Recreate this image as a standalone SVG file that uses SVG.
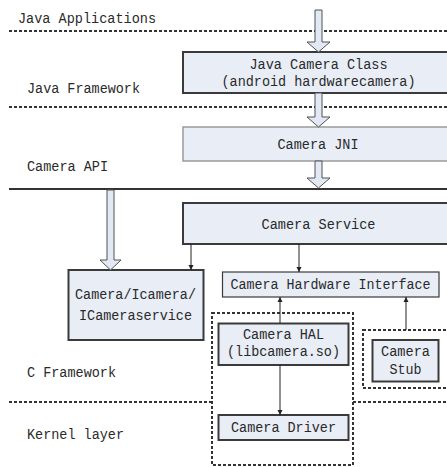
<svg xmlns="http://www.w3.org/2000/svg" width="447" height="467" viewBox="0 0 447 467">
<style>
  text { font-family: "Liberation Mono", "DejaVu Sans Mono", monospace; font-size: 14px; fill: #2a2a2a; }
  .c { text-anchor: middle; }
  .box { fill: #e8edf6; stroke: #3a3a3a; stroke-width: 2; }
  .thin { fill: #e8edf6; stroke: #3a3a3a; stroke-width: 1.2; }
  .light { fill: #e8edf6; stroke: #9a9a9a; stroke-width: 1.5; }
  .dash { fill: none; stroke: #333; stroke-width: 2; stroke-dasharray: 3 2; }
  .solid { stroke: #333; stroke-width: 2; }
  .block { fill: #e3e9f4; stroke: #505050; stroke-width: 1; }
  .conn { stroke: #222; stroke-width: 1; fill: none; marker-end: url(#ah); }
</style>
<defs>
  <marker id="ah" markerWidth="6" markerHeight="6" refX="5" refY="3" orient="auto" markerUnits="userSpaceOnUse">
    <path d="M0,0.5 L5,3 L0,5.5 Z" fill="#222"/>
  </marker>
</defs>
<rect width="447" height="467" fill="#fff"/>

<g id="layers">
  <line class="dash" x1="9" y1="31" x2="447" y2="31"/>
  <line class="dash" x1="9" y1="107" x2="447" y2="107"/>
  <line class="solid" x1="9" y1="189" x2="447" y2="189"/>
  <line class="dash" x1="9" y1="402" x2="212" y2="402"/>
  <line class="dash" x1="353" y1="402" x2="447" y2="402"/>
  <text x="18" y="23" textLength="138" lengthAdjust="spacingAndGlyphs">Java Applications</text>
  <text x="27" y="93" textLength="113" lengthAdjust="spacingAndGlyphs">Java Framework</text>
  <text x="27" y="171" textLength="81" lengthAdjust="spacingAndGlyphs">Camera API</text>
  <text x="27" y="377" textLength="89" lengthAdjust="spacingAndGlyphs">C Framework</text>
  <text x="27" y="439" textLength="97" lengthAdjust="spacingAndGlyphs">Kernel layer</text>
</g>

<g id="groups">
  <rect class="dash" x="212" y="313" width="141" height="152"/>
  <rect class="dash" x="363" y="330" width="100" height="58"/>
</g>

<g id="java-camera-class">
  <rect class="box" x="183" y="52" width="280" height="41"/>
  <text class="c" x="318.5" y="69" textLength="138" lengthAdjust="spacingAndGlyphs">Java Camera Class</text>
  <text class="c" x="318.5" y="86" textLength="194" lengthAdjust="spacingAndGlyphs">(android hardwarecamera)</text>
</g>

<g id="camera-jni">
  <rect class="light" x="183" y="127" width="280" height="34"/>
  <text class="c" x="318" y="149" textLength="81" lengthAdjust="spacingAndGlyphs">Camera JNI</text>
</g>

<g id="camera-service">
  <rect class="box" x="183" y="203" width="280" height="41"/>
  <text class="c" x="318.5" y="229" textLength="114" lengthAdjust="spacingAndGlyphs">Camera Service</text>
</g>

<g id="camera-icamera">
  <rect class="box" x="68.5" y="270" width="135" height="70"/>
  <text class="c" x="135.5" y="299" textLength="121" lengthAdjust="spacingAndGlyphs">Camera/Icamera/</text>
  <text class="c" x="135.5" y="320" textLength="113" lengthAdjust="spacingAndGlyphs">ICameraservice</text>
</g>

<g id="camera-hardware-interface">
  <rect class="thin" x="222.5" y="272" width="216.5" height="25"/>
  <text class="c" x="330.5" y="289" textLength="200" lengthAdjust="spacingAndGlyphs">Camera Hardware Interface</text>
</g>

<g id="camera-hal">
  <rect class="box" x="218.5" y="323.5" width="130" height="41.5"/>
  <text class="c" x="283.5" y="339" textLength="81" lengthAdjust="spacingAndGlyphs">Camera HAL</text>
  <text class="c" x="283.5" y="356" textLength="113" lengthAdjust="spacingAndGlyphs">(libcamera.so)</text>
</g>

<g id="camera-driver">
  <rect class="box" x="218.5" y="415" width="130" height="25"/>
  <text class="c" x="283.5" y="432" textLength="105" lengthAdjust="spacingAndGlyphs">Camera Driver</text>
</g>

<g id="camera-stub">
  <rect class="box" x="372.5" y="340" width="66" height="41.5"/>
  <text class="c" x="405.5" y="356" textLength="49" lengthAdjust="spacingAndGlyphs">Camera</text>
  <text class="c" x="405.5" y="374" textLength="32" lengthAdjust="spacingAndGlyphs">Stub</text>
</g>

<g id="connectors">
  <path class="block" d="M315,10 H322 V42 H330 L318.5,52 L307,42 H315 Z"/>
  <path class="block" d="M315,93 H322 V117 H330 L318.5,127 L307,117 H315 Z"/>
  <path class="block" d="M315,161 H322 V178 H330 L318.5,188 L307,178 H315 Z"/>
  <path class="block" d="M107,190 H114 V260 H121 L110.5,270 L100,260 H107 Z"/>
  <line class="conn" x1="191" y1="244" x2="191" y2="270"/>
  <line class="conn" x1="299" y1="244" x2="299" y2="272"/>
  <line class="conn" x1="280" y1="323" x2="280" y2="297"/>
  <line class="conn" x1="280" y1="365" x2="280" y2="415"/>
  <line class="conn" x1="406" y1="330" x2="406" y2="297"/>
</g>
</svg>
